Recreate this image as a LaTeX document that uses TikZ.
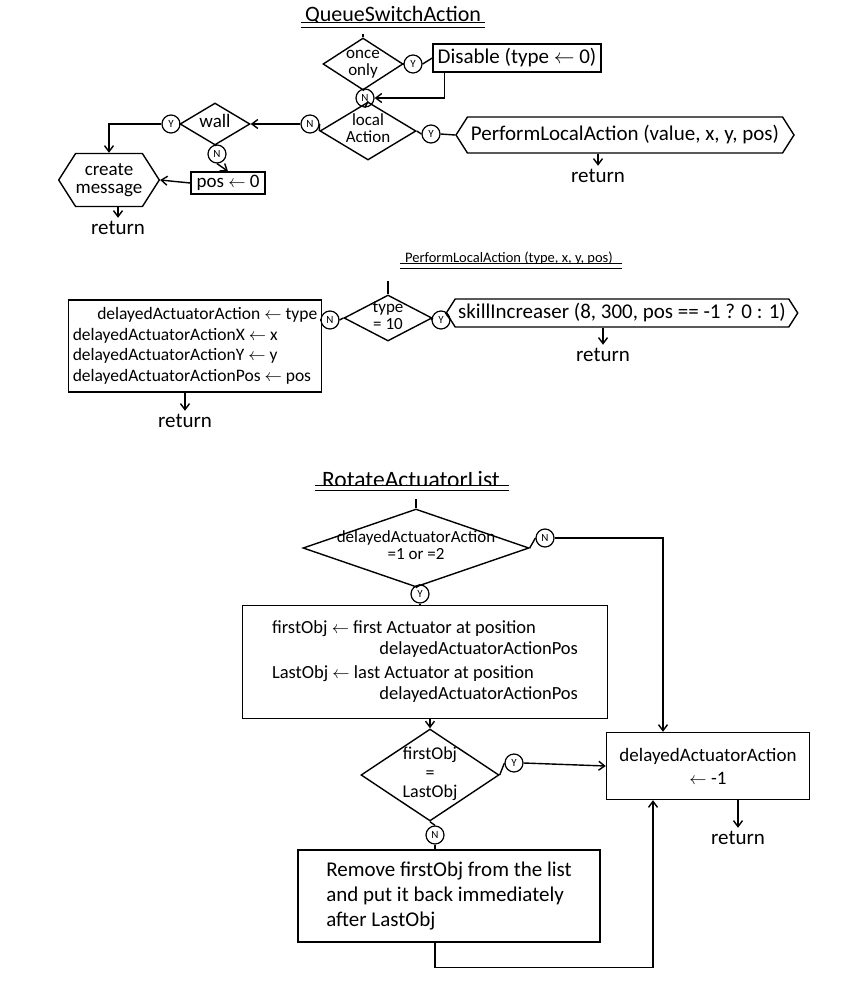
\documentclass[tikz,border=0pt]{standalone}
\usepackage{fontspec}
\setmainfont{Carlito}
\usetikzlibrary{shapes.geometric,shapes.symbols,arrows.meta}
\newcommand{\dtext}[1]{\makebox[0pt]{\begin{tabular}{@{}c@{}}#1\end{tabular}}}
\newcommand{\assign}{$\leftarrow$}
\begin{document}
\begin{tikzpicture}[x=1pt, y=-1pt,
  every node/.style={font=\fontsize{21}{24}\selectfont},
  box/.style={rectangle, draw, line width=1.4pt, align=left, inner sep=6pt},
  cond/.style={diamond, draw, line width=1.4pt, inner sep=0pt, font=\fontsize{17}{17}\selectfont},
  call/.style={signal, signal to=west and east, signal pointer angle=115, draw, line width=1.4pt, inner sep=3pt},
  yn/.style={circle, draw, line width=1.2pt, minimum size=18pt, inner sep=0pt, font=\fontsize{11}{11}\selectfont},
  head/.style={inner sep=1pt},
  uline/.style={double, double distance=4pt, line width=1pt},
  link/.style={line width=1.4pt},
  arrow/.style={->, >={Straight Barb[length=6pt,width=9pt]}, line width=1.4pt}
]
  \useasboundingbox (0,0) rectangle (850,983);

  % QueueSwitchAction
  \node[head, font=\fontsize{22}{24}\selectfont] (t1) at (393,15) {QueueSwitchAction};
  \draw[uline] ([xshift=-3pt]t1.south west) -- ([xshift=3pt]t1.south east);
  \coordinate (e1) at (363,34);
  \node[cond, minimum width=80pt, minimum height=52pt] (once) at (363,64) {\dtext{once\\only}};
  \node[yn] (oy) at (413,64) {Y};
  \node[box, minimum width=168pt, minimum height=28pt, inner sep=3pt] (disable) at (517,58) {Disable (type \assign{} 0)};
  \node[yn] (on) at (365,98) {N};
  \node[cond, minimum width=96pt, minimum height=58pt] (local) at (368,131) {\dtext{local\\Action}};
  \node[yn] (ly) at (431,134) {Y};
  \node[call, minimum width=338pt, minimum height=36pt] (pla) at (625,135) {PerformLocalAction (value, x, y, pos)};
  \node (ret1) at (598,176) {return};
  \node[yn] (ln) at (310,124) {N};
  \node[cond, minimum width=70pt, minimum height=42pt, font=\fontsize{19}{19}\selectfont] (wall) at (215,124) {\dtext{wall}};
  \node[yn] (wy) at (171,124) {Y};
  \node[yn] (wn) at (217,154) {N};
  \node[box, minimum width=74pt, minimum height=22pt, inner sep=3pt, font=\fontsize{19}{20}\selectfont] (pos) at (228,183) {pos \assign{} 0};
  \node[call, minimum width=96pt, minimum height=53pt, align=center, inner sep=0pt, font=\fontsize{19}{18}\selectfont] (msg) at (109,180) {create\\message};
  \node (ret2) at (118,228) {return};

  \draw[link] (e1) -- (once.north);
  \draw[link] (once.east) -- (oy.west);
  \draw[link] (oy.east) -- (disable.west);
  \draw[arrow] ([xshift=12pt]disable.south west) |- (on.east);
  \draw[link] (once.south) -- (on.north);
  \draw[link] (on.south) -- (local.north);
  \draw[link] (local.west) -- (ln.east);
  \draw[arrow] (ln.west) -- (wall.east);
  \draw[link] (wall.west) -- (wy.east);
  \draw[arrow] (wy.west) -| (msg.north);
  \draw[link] (wall.south) -- (wn.north);
  \draw[arrow] (wn.south) -- (pos.north);
  \draw[arrow] (pos.west) -- (msg.east);
  \draw[arrow] (ret2.north |- msg.south) -- (ret2.north);
  \draw[link] (local.east) -- (ly.west);
  \draw[link] (ly.east) -- (pla.west);
  \draw[arrow] (ret1.north |- pla.south) -- (ret1.north);

  % PerformLocalAction
  \node[head, font=\fontsize{14.5}{16}\selectfont] (t2) at (509,258) {PerformLocalAction (type, x, y, pos)};
  \draw[uline] ([xshift=-4pt]t2.south west) -- ([xshift=8pt]t2.south east);
  \coordinate (e2) at (388,281);
  \node[cond, minimum width=88pt, minimum height=46pt] (type) at (388,318) {\dtext{type\\= 10}};
  \node[yn] (ty) at (441,320) {Y};
  \node[call, minimum width=345pt, minimum height=28pt] (skill) at (622,313) {skillIncreaser (8, 300, pos == -1 ? 0 : 1)};
  \node (ret3) at (603,355) {return};
  \node[yn] (tn) at (330,320) {N};
  \node[box, minimum width=248pt, minimum height=92pt, inner sep=4pt, font=\fontsize{17.5}{20.5}\selectfont] (delay) at (195,346)
    {\hspace*{1.4em}delayedActuatorAction \assign{} type\\delayedActuatorActionX \assign{} x\\delayedActuatorActionY \assign{} y\\delayedActuatorActionPos \assign{} pos};
  \node (ret4) at (185,421) {return};

  \draw[link] (e2) -- (type.north);
  \draw[link] (type.east) -- (ty.west);
  \draw[link] (ty.east) -- (skill.west);
  \draw[arrow] (ret3.north |- skill.south) -- (ret3.north);
  \draw[link] (type.west) -- (tn.east);
  \draw[link] (tn.west) -- (delay.east |- tn.west);
  \draw[arrow] (ret4.north |- delay.south) -- (ret4.north);

  % RotateActuatorList
  \node[head, font=\fontsize{23.5}{26}\selectfont] (t3) at (411,479) {RotateActuatorList};
  \draw[uline] ([xshift=-6pt]t3.south west) -- ([xshift=8pt]t3.south east);
  \coordinate (e3) at (416,499);
  \node[cond, minimum width=226pt, minimum height=78pt] (act) at (416,548) {\dtext{delayedActuatorAction\\=1 or =2}};
  \node[yn] (an) at (545,538) {N};
  \node[yn] (ay) at (420,594) {Y};
  \node[box, minimum width=365pt, minimum height=113pt, inner sep=8pt, font=\fontsize{18.5}{21}\selectfont] (objs) at (425,662)
    {firstObj \assign{} first Actuator at position\\
     \hspace*{5.8em}delayedActuatorActionPos\\[3pt]
     LastObj \assign{} last Actuator at position\\
     \hspace*{5.8em}delayedActuatorActionPos};
  \node[cond, minimum width=138pt, minimum height=92pt, font=\fontsize{18}{19}\selectfont] (same) at (430,775) {\dtext{firstObj\\=\\LastObj}};
  \node[yn] (sy) at (514,763) {Y};
  \node[box, minimum width=203pt, minimum height=67pt, align=center, font=\fontsize{19}{23}\selectfont] (reset) at (708,766) {delayedActuatorAction\\\assign{} -1};
  \node (ret5) at (738,838) {return};
  \node[yn] (sn) at (435,835) {N};
  \node[box, minimum width=302pt, minimum height=92pt, inner sep=10pt, font=\fontsize{21}{25}\selectfont] (move) at (449,896)
    {Remove firstObj from the list\\and put it back immediately\\after LastObj};

  \draw[link] (e3) -- (act.north);
  \draw[link] (act.east) -- (an.west);
  \draw[arrow] (an.east) -| ([xshift=-45pt]reset.north);
  \draw[link] (act.south) -- (ay.north);
  \draw[link] (ay.south) -- (ay.south |- objs.north);
  \draw[arrow] (same.north |- objs.south) -- (same.north);
  \draw[link] (same.east) -- (sy.west);
  \draw[arrow] (sy.east) -- (reset.west);
  \draw[link] (same.south) -- (sn.north);
  \draw[link] (sn.south) -- (sn.south |- move.north);
  \draw[arrow] ([xshift=-14pt]move.south) -- ++(0,25) -| ([xshift=-55pt]reset.south);
  \draw[arrow] (ret5.north |- reset.south) -- (ret5.north);
\end{tikzpicture}
\end{document}
